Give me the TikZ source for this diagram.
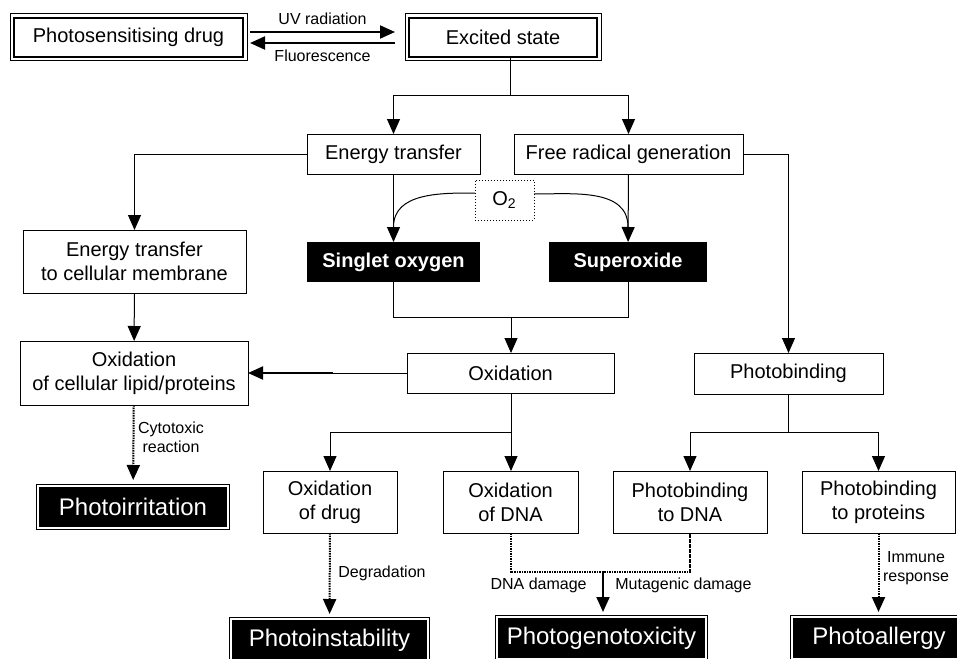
\documentclass[tikz,border=0pt]{standalone}
\usepackage{fontspec}
\setmainfont{Liberation Sans}
\usetikzlibrary{arrows.meta}

\begin{document}
\begin{tikzpicture}[x=0.5pt, y=-0.5pt,
    font=\fontsize{10}{12}\selectfont,
    box/.style={draw, line width=0.5pt, outer sep=0pt, inner sep=1pt, align=center},
    startbox/.style={draw, line width=1pt, outer sep=0pt, inner sep=1pt},
    blackbox/.style={fill=black, text=white, outer sep=0pt, inner sep=1pt,
        font=\fontsize{10}{12}\selectfont\bfseries},
    resultbox/.style={fill=black, text=white, draw=black, double=white,
        double distance=1pt, line width=0.5pt, outer sep=0pt, inner sep=1pt,
        font=\fontsize{12}{14}\selectfont},
    arr/.style={line width=0.5pt, -{Triangle[width=6.5pt,length=7.5pt]}},
    dotarr/.style={line width=1pt, dash pattern=on 0.8pt off 0.45pt,
        -{Triangle[width=6.5pt,length=7.5pt]}},
    lbl/.style={font=\fontsize{8}{9.5}\selectfont, align=center, inner sep=1pt}]
    \useasboundingbox (0,0) rectangle (957,658);

    % top row
    \node[startbox, minimum width=114.5pt, minimum height=19.5pt] (drug) at (128.5,37.5) {Photosensitising drug};
    \node[startbox, minimum width=94pt, minimum height=19.5pt] (excited) at (503,37.5) {Excited state};
    \draw[line width=0.5pt] ([shift={(-2pt,-2pt)}]drug.south west) rectangle ([shift={(2pt,2pt)}]drug.north east);
    \draw[line width=0.5pt] ([shift={(-2pt,-2pt)}]excited.south west) rectangle ([shift={(2pt,2pt)}]excited.north east);

    % second and third rows
    \node[box, minimum width=86.5pt, minimum height=20pt] (energy) at (393.5,154) {Energy transfer};
    \node[box, minimum width=114.5pt, minimum height=20pt] (radical) at (628.5,154) {Free radical generation};
    \node[box, minimum width=29.5pt, minimum height=20pt, densely dotted] (o2) at (504.5,200) {O\textsubscript{2}};
    \node[box, minimum width=111.5pt, minimum height=31.5pt] (membrane) at (134.5,261.5) {Energy transfer\\to cellular membrane};
    \node[blackbox, minimum width=86.5pt, minimum height=20pt] (singlet) at (393.5,262) {Singlet oxygen};
    \node[blackbox, minimum width=79pt, minimum height=20pt] (superoxide) at (628,262) {Superoxide};

    % fourth row
    \node[box, minimum width=114pt, minimum height=32pt] (lipid) at (134,373) {Oxidation\\of cellular lipid/proteins};
    \node[box, minimum width=103.5pt, minimum height=20pt] (oxidation) at (510.5,373) {Oxidation};
    \node[box, minimum width=94.5pt, minimum height=20.5pt] (photobinding) at (788.5,373.5) {Photobinding};

    % fifth row
    \node[box, minimum width=67pt, minimum height=31pt] (oxdrug) at (330,502) {Oxidation\\of drug};
    \node[box, minimum width=67.5pt, minimum height=31pt] (oxdna) at (510.5,502) {Oxidation\\of DNA};
    \node[box, minimum width=77pt, minimum height=31pt] (pbdna) at (690,502) {Photobinding\\to DNA};
    \node[box, minimum width=76.5pt, minimum height=31pt] (pbprot) at (878.5,502) {Photobinding\\to proteins};

    % outcomes
    \node[resultbox, minimum width=95pt, minimum height=21pt] (irritation) at (133,507) {Photoirritation};
    \node[resultbox, minimum width=98.5pt, minimum height=21pt] (instability) at (329.5,640) {Photoinstability};
    \node[resultbox, minimum width=104.5pt, minimum height=21pt] (genotox) at (601.5,638) {Photogenotoxicity};
    \node[resultbox, minimum width=87pt, minimum height=21pt] (allergy) at (879,638) {Photoallergy};

    % junctions
    \coordinate (ex) at (510,96);
    \coordinate (join) at (511,317);
    \coordinate (mid) at (333,373);
    \coordinate (ox) at (511,432);
    \coordinate (pb) at (788.5,432);
    \coordinate (gen) at (603,572);

    % excitation
    \draw[arr, line width=1pt] ([xshift=3.5pt,yshift=2.75pt]drug.east) -- ([xshift=-7pt,yshift=2.75pt]excited.west)
        node[lbl, midway, above=2pt] {UV radiation};
    \draw[arr, line width=1pt] ([xshift=-7pt,yshift=-2.75pt]excited.west) -- ([xshift=3.5pt,yshift=-2.75pt]drug.east)
        node[lbl, midway, below=2pt] {Fluorescence};
    \draw[line width=0.5pt] (ex |- excited.south) -- (ex);
    \draw[arr] (ex) -| (energy.north);
    \draw[arr] (ex) -| (radical.north);

    % energy transfer and free radicals
    \draw[arr] (energy.west) -| (membrane.north);
    \draw[arr] (energy) -- (singlet);
    \draw[arr] (radical) -- (superoxide);
    \draw[line width=0.5pt] ([yshift=3.5pt]o2.west) to[out=180, in=90] ([yshift=7.5pt]singlet.north);
    \draw[line width=0.5pt] ([yshift=3pt]o2.east) to[out=0, in=90] ([yshift=7.5pt]superoxide.north);
    \draw[arr] (radical.east) -| (photobinding.north);
    \draw[arr] (membrane) -- (lipid);

    % oxidation
    \draw[line width=0.5pt] (singlet.south) |- (superoxide.south |- join) -- (superoxide.south);
    \draw[arr] (join) -- (join |- oxidation.north);
    \draw[line width=0.5pt] (oxidation.west) -- (mid);
    \draw[arr, line width=1pt] (mid) -- (lipid.east);
    \draw[arr] (ox |- oxidation.south) -- (ox |- oxdna.north);
    \draw[arr] (ox) -| (oxdrug.north);

    % photobinding
    \draw[line width=0.5pt] (photobinding.south) -- (pb);
    \draw[arr] (pb) -| (pbdna.north);
    \draw[arr] (pb) -| (pbprot.north);

    % outcomes
    \draw[dotarr, shorten >=3pt] (lipid) -- (irritation);
    \node[lbl] at (171,437) {Cytotoxic\\reaction};
    \draw[dotarr, shorten >=2.5pt] (oxdrug) -- (instability);
    \node[lbl, anchor=west] at (336,573) {Degradation};
    \draw[line width=1pt, dash pattern=on 0.8pt off 0.45pt] (oxdna.south) |- (gen) -| (pbdna.south);
    \draw[arr, line width=1pt, shorten >=2.5pt] (gen) -- (gen |- genotox.north);
    \node[lbl, anchor=east] at (589,585) {DNA damage};
    \node[lbl, anchor=west] at (613,585) {Mutagenic damage};
    \draw[dotarr, shorten >=2.5pt] (pbprot.south) -- (pbprot.south |- allergy.north);
    \node[lbl] at (916,568) {Immune\\response};
\end{tikzpicture}
\end{document}
